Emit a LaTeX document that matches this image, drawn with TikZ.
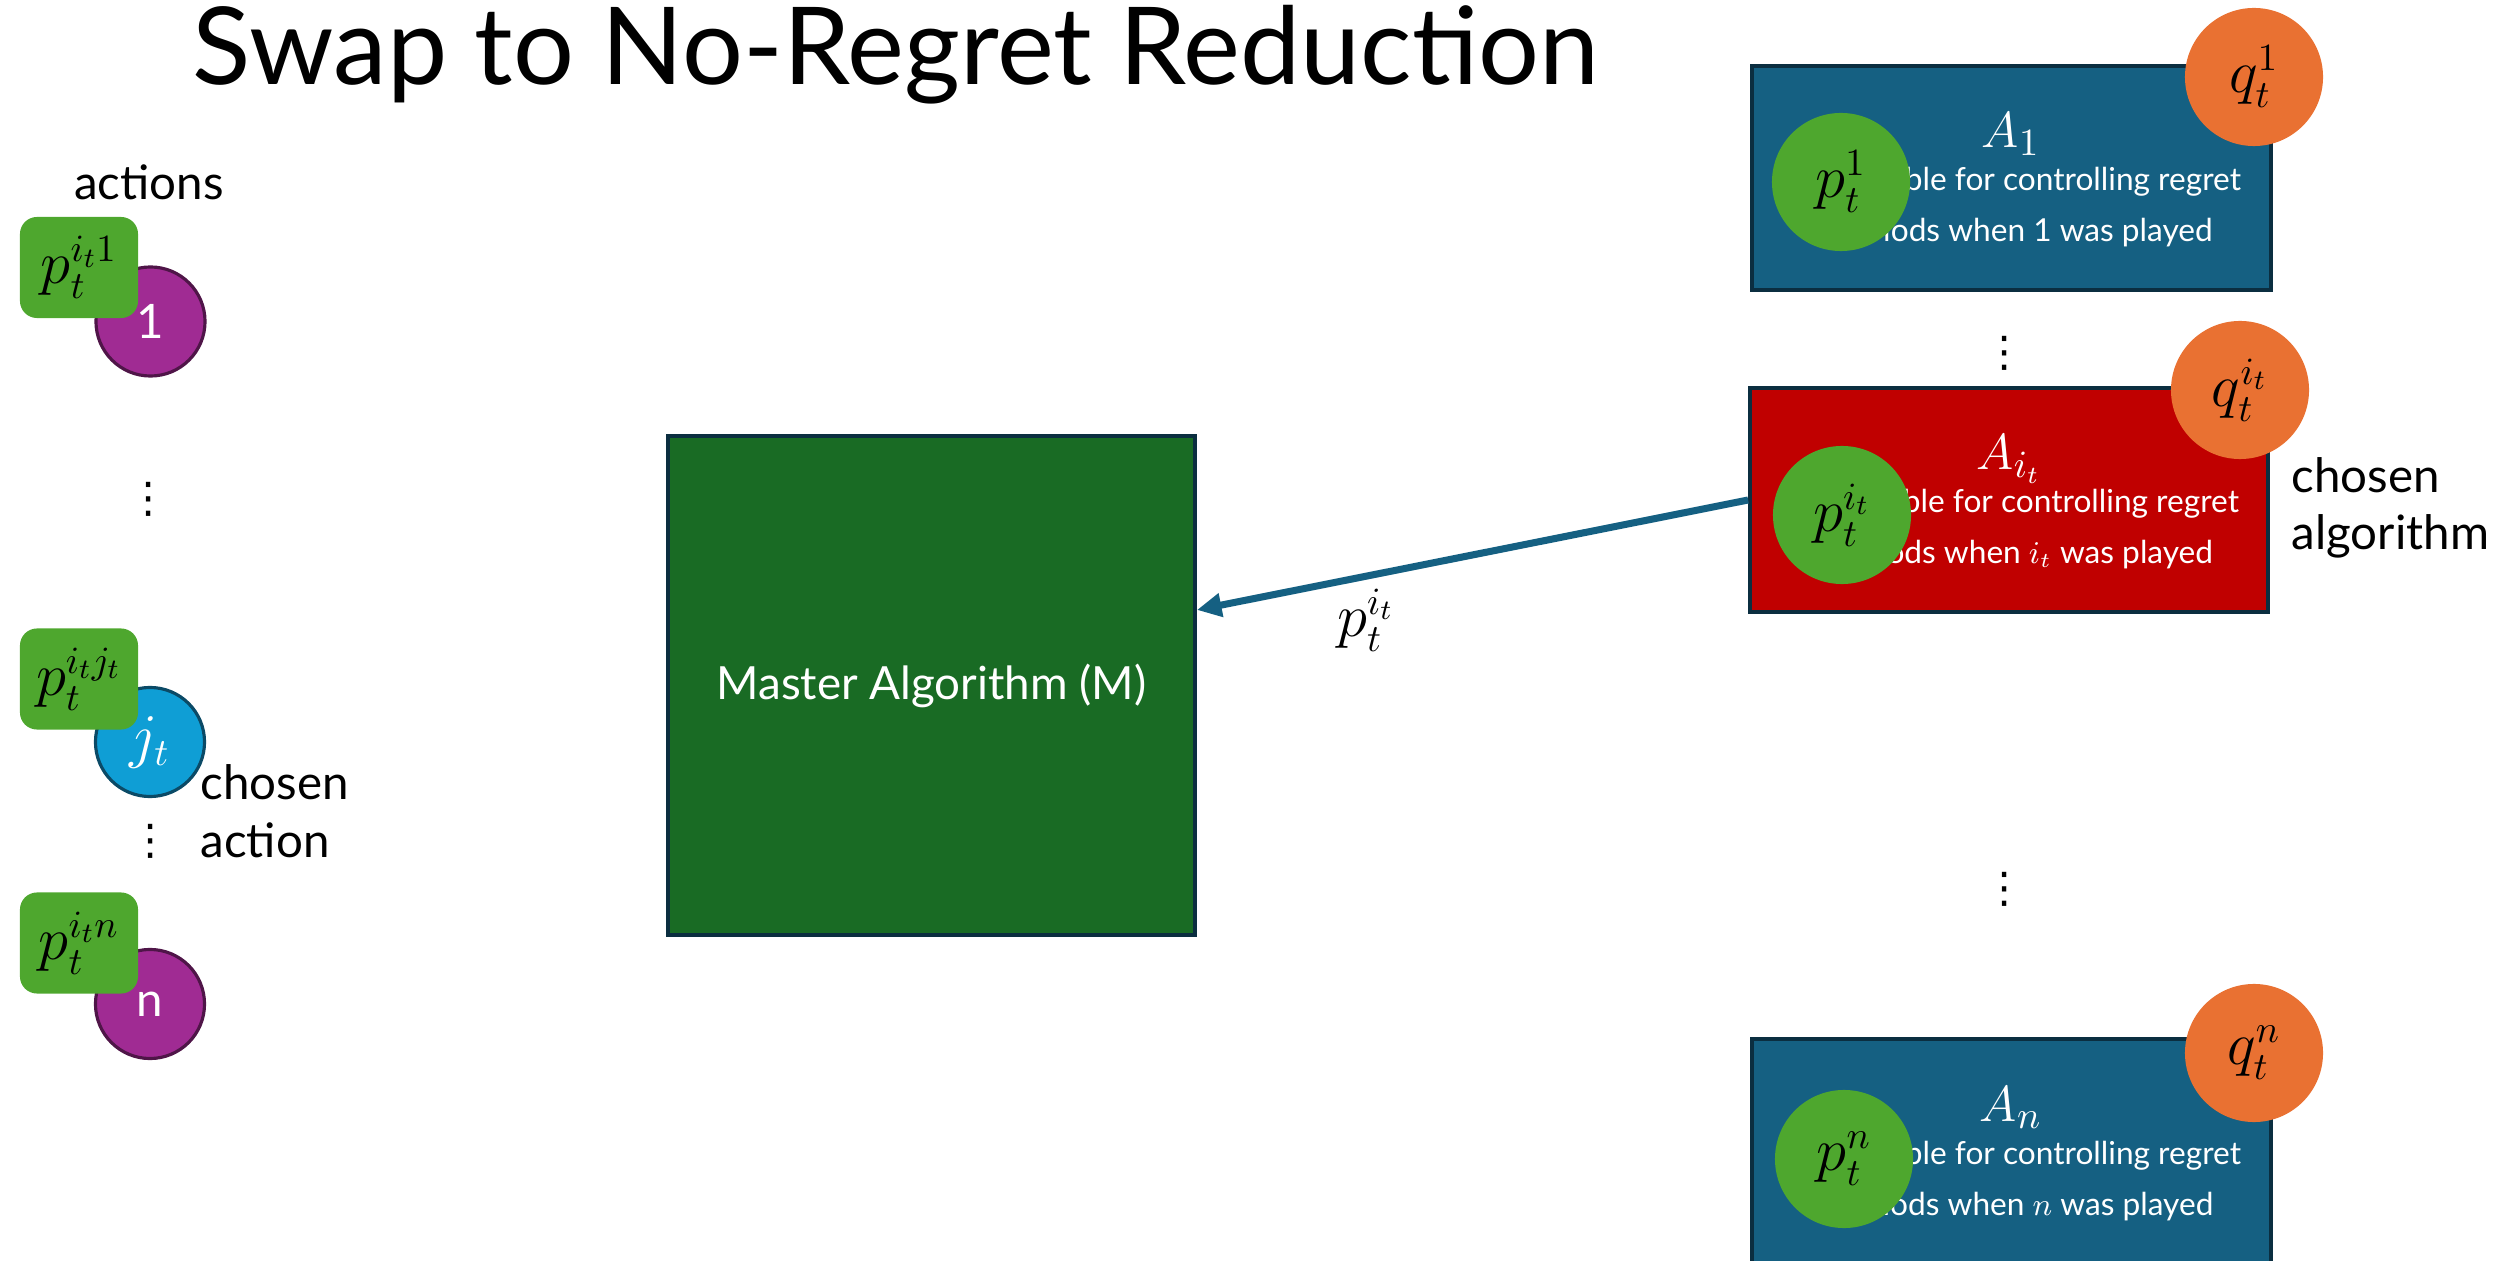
\documentclass[tikz,border=0pt]{standalone}
\usepackage{fontspec}
\setmainfont{Lato}
\newfontfamily\dejavu{DejaVu Sans}
\usetikzlibrary{arrows.meta}
\definecolor{accblue}{HTML}{156082}
\definecolor{outl}{HTML}{0B2E40}
\definecolor{redc}{HTML}{C00000}
\definecolor{mgreen}{HTML}{196B24}
\definecolor{orangec}{HTML}{E97132}
\definecolor{pgreen}{HTML}{4EA72E}
\definecolor{purplec}{HTML}{A02B93}
\definecolor{purpleb}{HTML}{4F1548}
\definecolor{cyanc}{HTML}{0F9ED5}
\definecolor{cyanb}{HTML}{0B4A66}
\begin{document}
\begin{tikzpicture}[x=0.01cm,y=-0.01cm,
  lbl/.style={font=\fontsize{13.5}{16}\selectfont, anchor=base west, inner sep=0},
  mathlbl/.style={font=\fontsize{16}{18}\selectfont, inner sep=0},
  abox/.style={draw=outl, line width=1pt, fill=accblue, minimum width=5.19cm, minimum height=2.24cm, inner sep=0},
  atitle/.style={text=white, font=\fontsize{15}{17}\selectfont, anchor=base, inner sep=0},
  aline/.style={text=white, font=\fontsize{9}{11}\selectfont, anchor=base, inner sep=0},
  pcirc/.style={circle, fill=pgreen, minimum size=1.38cm, inner sep=0, font=\fontsize{16}{18}\selectfont},
  qcirc/.style={circle, fill=orangec, minimum size=1.38cm, inner sep=0, font=\fontsize{16}{18}\selectfont},
  actp/.style={circle, draw=purpleb, fill=purplec, line width=0.9pt, minimum size=1.09cm, inner sep=0, text=white, font=\fontsize{13.5}{16}\selectfont},
  actj/.style={circle, draw=cyanb, fill=cyanc, line width=0.9pt, minimum size=1.09cm, inner sep=0, text=white, font=\fontsize{16}{18}\selectfont},
  psq/.style={rounded corners=0.17cm, fill=pgreen, minimum width=1.18cm, minimum height=1.01cm, inner sep=0, font=\fontsize{16}{18}\selectfont},
  vdot/.style={font=\dejavu\fontsize{12}{14}\selectfont, inner sep=0},
  mbox/.style={draw=outl, line width=1pt, fill=mgreen, minimum width=5.27cm, minimum height=4.99cm, inner sep=0, text=white, font=\fontsize{13}{16}\selectfont},
  arr/.style={draw=accblue, line width=2pt, -{Triangle[length=7pt,width=6.5pt]}}
]
\useasboundingbox (0,0) rectangle (2511,1261);

% title
\node[font=\fontsize{30.6}{36}\selectfont, anchor=base, inner sep=0] (title) at (896,85) {Swap to No-Regret Reduction};

% left column
\node[lbl, anchor=base] (actions) at (149,200) {actions};
\node[actp] (a1) at (150.5,321.5) {1};
\node[actj] (aj) at (150,742) {$j_t$};
\node[actp] (an) at (150,1004) {n};
\node[psq] (s1) at (79,267.5) {$p_t^{i_t1}$};
\node[psq] (sj) at (79,679) {$p_t^{i_tj_t}$};
\node[psq] (sn) at (79,943) {$p_t^{i_tn}$};
\node[vdot] (d1) at (149,499) {⋮};
\node[vdot] (d2) at (151,841) {⋮};
\node[lbl] (ch1) at (200,799) {chosen};
\node[lbl] (ch2) at (200,857) {action};

% master
\node[mbox] (M) at (931.5,685.5) {Master Algorithm (M)};

% algorithm boxes
\node[abox] (A1) at (2011.5,178) {};
\node[abox, fill=redc, minimum width=5.18cm] (Ai) at (2009,500) {};
\node[abox] (An) at (2011.5,1151) {};

\node[atitle] (A1t) at (2011,148) {$A_1$};
\node[aline] (A1a) at (2011,191) {Responsible for controlling regret};
\node[aline] (A1b) at (2025,242) {periods when 1 was played};

\node[atitle] (Ait) at (2009,470) {$A_{i_t}$};
\node[aline] (Aia) at (2009,513) {Responsible for controlling regret};
\node[aline] (Aib) at (2023,564) {periods when $i_t$ was played};

\node[atitle] (Ant) at (2011,1121) {$A_n$};
\node[aline] (Ana) at (2011,1164) {Responsible for controlling regret};
\node[aline] (Anb) at (2025,1215) {periods when $n$ was played};

\node[pcirc] (p1) at (1841,182) {$p_t^1$};
\node[pcirc] (pi) at (1842,515) {$p_t^{i_t}$};
\node[pcirc] (pn) at (1844,1159) {$p_t^n$};
\node[qcirc] (q1) at (2254,77) {$q_t^1$};
\node[qcirc] (qi) at (2240,390) {$q_t^{i_t}$};
\node[qcirc] (qn) at (2254,1053) {$q_t^n$};

\node[vdot] (d3) at (2005,353) {⋮};
\node[vdot] (d4) at (2005,889) {⋮};

\node[lbl] (al1) at (2291,493) {chosen};
\node[lbl] (al2) at (2291,550) {algorithm};

% arrow
\draw[arr] (Ai.west) -- ([yshift=0.755cm]M.east);
\node[mathlbl] (lab) at (1366,620) {$p_t^{i_t}$};
\end{tikzpicture}
\end{document}
